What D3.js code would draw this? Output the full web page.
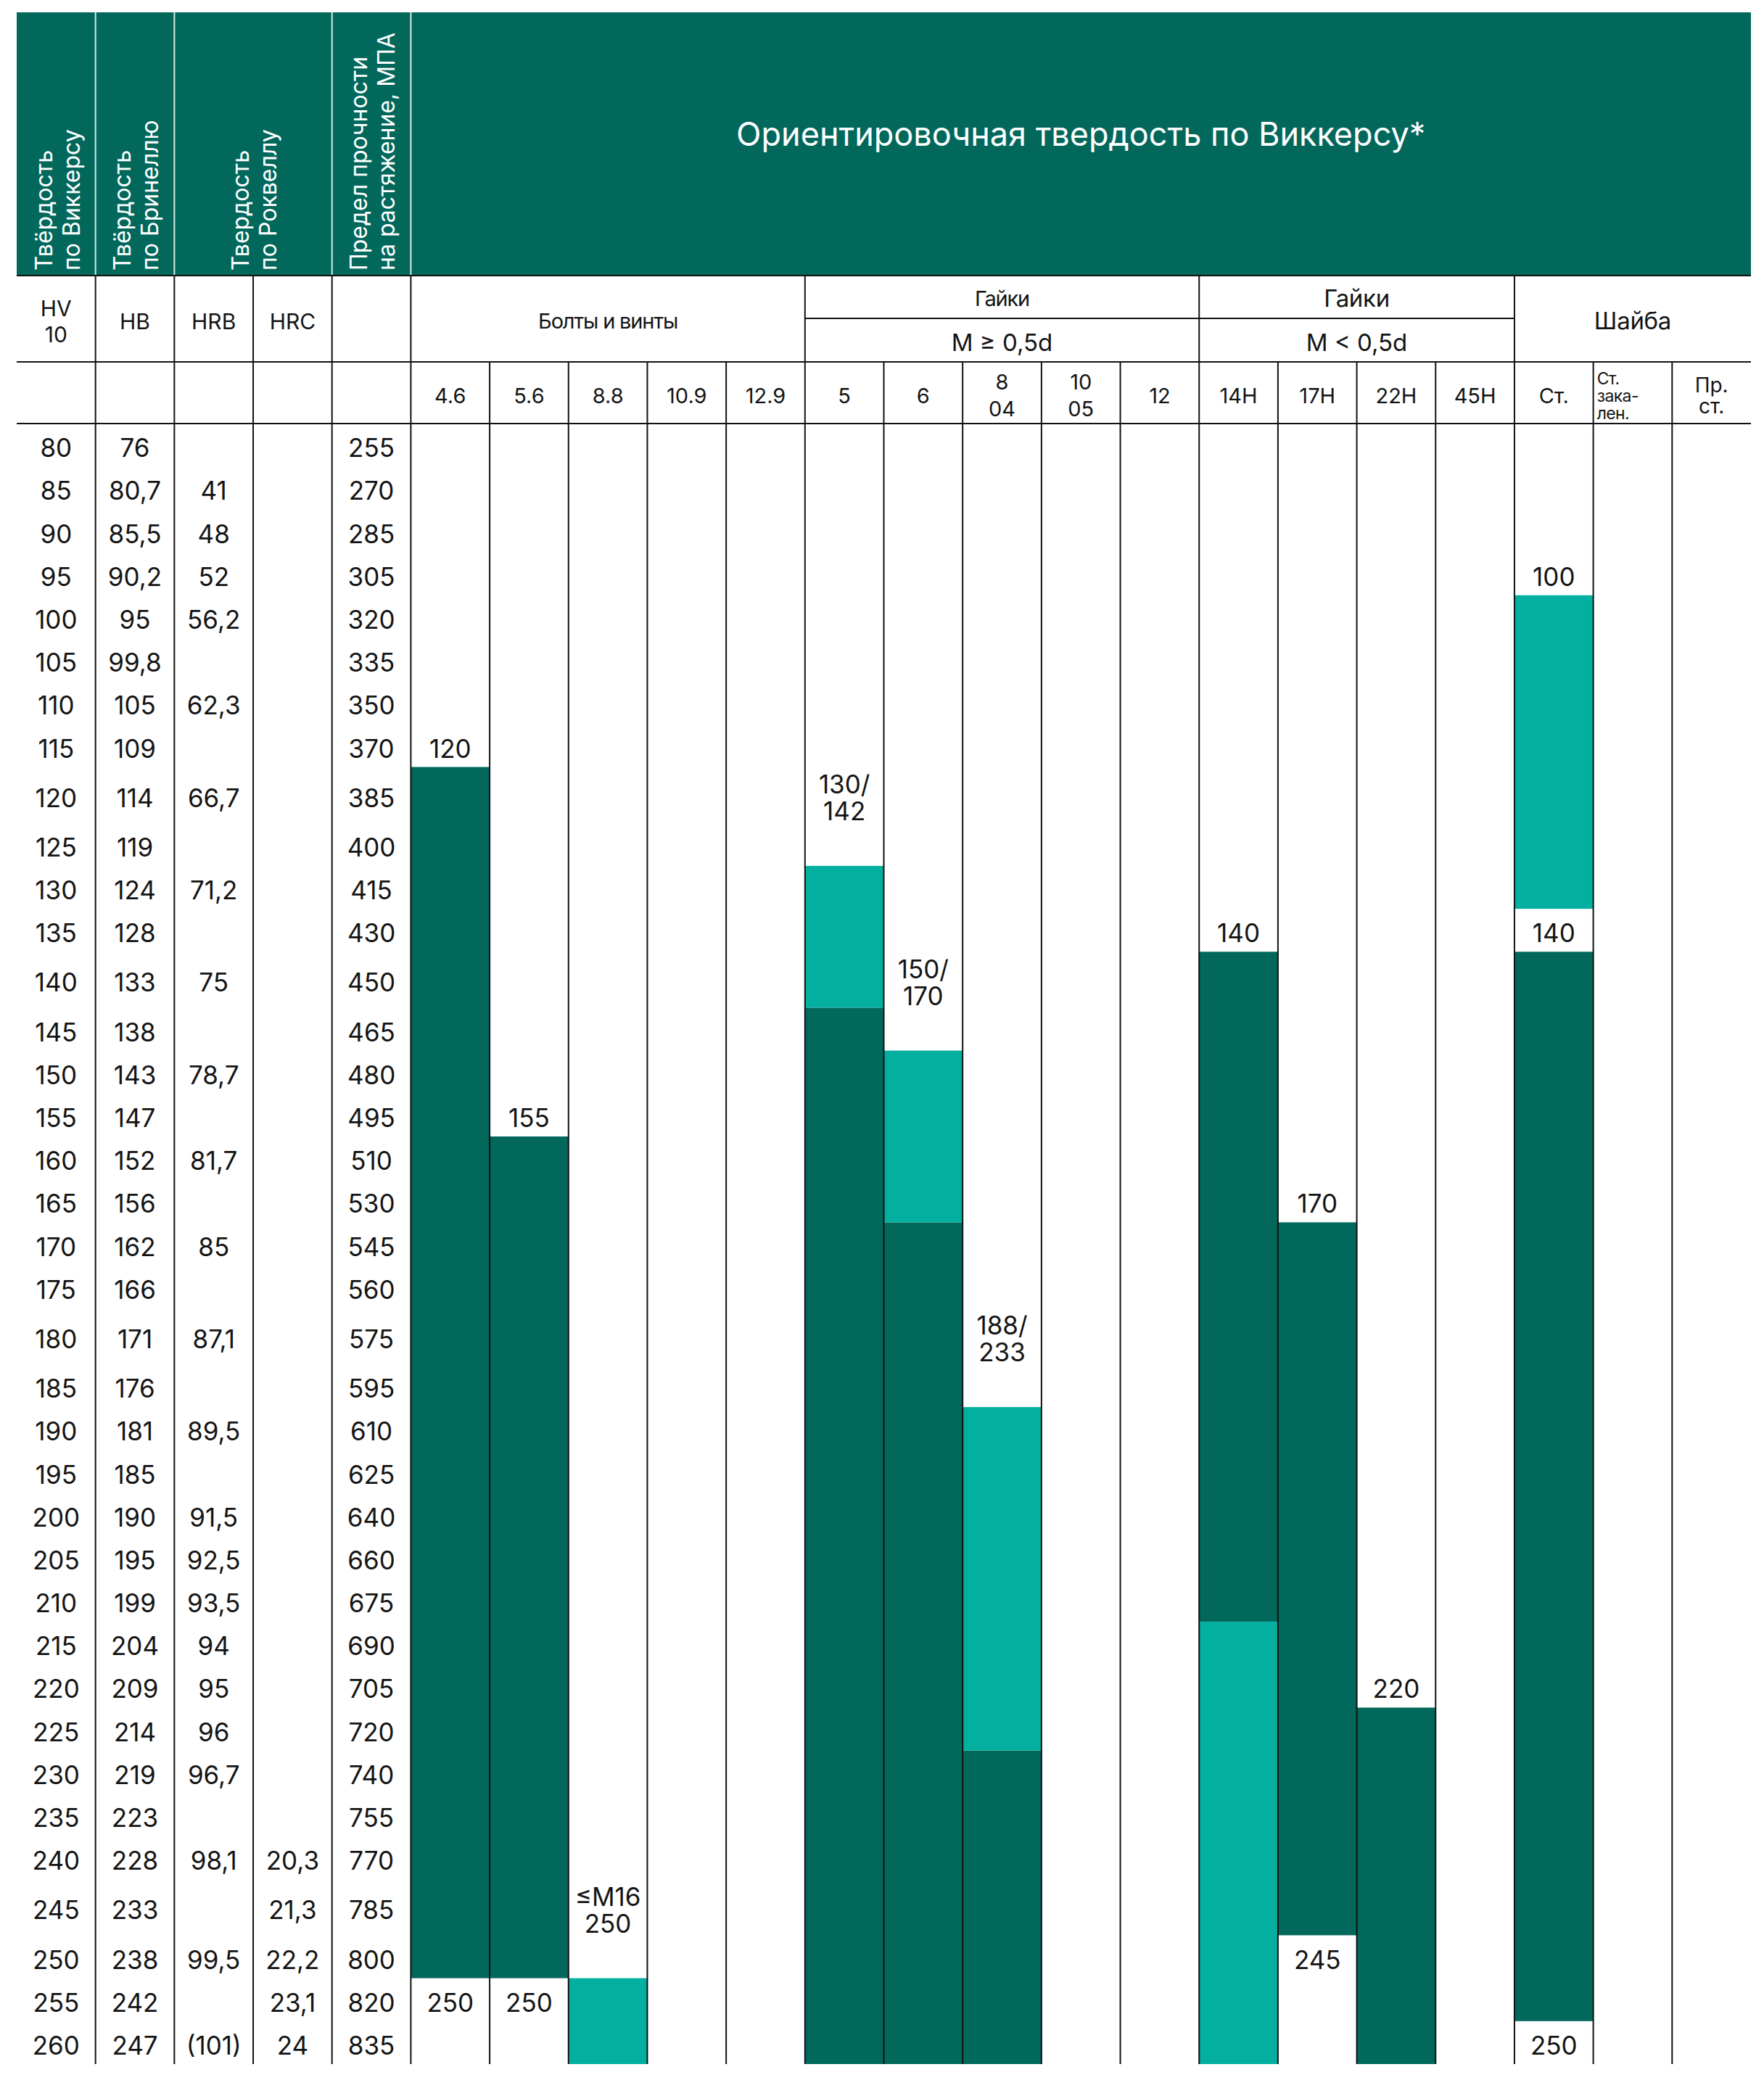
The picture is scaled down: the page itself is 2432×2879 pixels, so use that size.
<!DOCTYPE html>
<html><head><meta charset="utf-8">
<script src="https://cdn.jsdelivr.net/npm/d3@7"></script>
<style>
body{margin:0;background:#fff}
svg{display:block}
text{font-family:Inter,"Noto Sans",sans-serif;fill:#141414}
</style>
</head><body>
<svg id="chart" width="2432" height="2879"></svg>
<script>
// ---------------- DATA ----------------
const hv  = [80,85,90,95,100,105,110,115,120,125,130,135,140,145,150,155,160,165,170,175,180,185,190,195,200,205,210,215,220,225,230,235,240,245,250,255,260];
const hb  = ["76","80,7","85,5","90,2","95","99,8","105","109","114","119","124","128","133","138","143","147","152","156","162","166","171","176","181","185","190","195","199","204","209","214","219","223","228","233","238","242","247"];
const hrb = ["","41","48","52","56,2","","62,3","","66,7","","71,2","","75","","78,7","","81,7","","85","","87,1","","89,5","","91,5","92,5","93,5","94","95","96","96,7","","98,1","","99,5","","(101)"];
const hrc = ["","","","","","","","","","","","","","","","","","","","","","","","","","","","","","","","","20,3","21,3","22,2","23,1","24"];
const mpa = ["255","270","285","305","320","335","350","370","385","400","415","430","450","465","480","495","510","530","545","560","575","595","610","625","640","660","675","690","705","720","740","755","770","785","800","820","835"];

const columns = ["HV","HB","HRB","HRC","MPA","4.6","5.6","8.8","10.9","12.9","5","6","8/04","10/05","12","14H","17H","22H","45H","Ст.","Ст. закален.","Пр. ст."];
const classLabels = {"4.6":["4.6"],"5.6":["5.6"],"8.8":["8.8"],"10.9":["10.9"],"12.9":["12.9"],"5":["5"],"6":["6"],"8/04":["8","04"],"10/05":["10","05"],"12":["12"],"14H":["14H"],"17H":["17H"],"22H":["22H"],"45H":["45H"],"Ст.":["Ст."],"Ст. закален.":["Ст.","зака-","лен."],"Пр. ст.":["Пр.","ст."]};

const title = "Ориентировочная твердость по Виккерсу*";
const rotatedHeaders = [
  {from:"HV", to:"HV", lines:["Твёрдость","по Виккерсу"]},
  {from:"HB", to:"HB", lines:["Твёрдость","по Бринеллю"]},
  {from:"HRB", to:"HRC", lines:["Твердость","по Роквеллу"]},
  {from:"MPA", to:"MPA", lines:["Предел прочности","на растяжение, МПА"]}
];
const unitHeaders = [
  {col:"HV", lines:["HV","10"]},{col:"HB", lines:["HB"]},{col:"HRB", lines:["HRB"]},{col:"HRC", lines:["HRC"]},{col:"MPA", lines:[]}
];
const groupHeaders = [
  {from:"4.6", to:"12.9", label:"Болты и винты", sub:null, small:true},
  {from:"5", to:"12", label:"Гайки", sub:"M ≥ 0,5d", small:true},
  {from:"14H", to:"45H", label:"Гайки", sub:"M < 0,5d", small:false},
  {from:"Ст.", to:"Пр. ст.", label:"Шайба", sub:null, small:false}
];

// ranges of Vickers hardness (inclusive rows)
const darkRanges = [
  {col:"4.6", from:120, to:250},
  {col:"5.6", from:160, to:250},
  {col:"5", from:145, to:260},
  {col:"6", from:170, to:260},
  {col:"8/04", from:230, to:260},
  {col:"14H", from:140, to:210},
  {col:"17H", from:170, to:245},
  {col:"22H", from:225, to:260},
  {col:"Ст.", from:140, to:255}
];
const tealRanges = [
  {col:"8.8", from:255, to:260},
  {col:"5", from:130, to:140},
  {col:"6", from:150, to:165},
  {col:"8/04", from:190, to:225},
  {col:"14H", from:215, to:260},
  {col:"Ст.", from:100, to:130}
];
const rangeLabels = [
  {col:"4.6", at:115, lines:["120"]},
  {col:"4.6", at:255, lines:["250"]},
  {col:"5.6", at:155, lines:["155"]},
  {col:"5.6", at:255, lines:["250"]},
  {col:"8.8", at:245, lines:["≤M16","250"]},
  {col:"5", at:120, lines:["130/","142"]},
  {col:"6", at:140, lines:["150/","170"]},
  {col:"8/04", at:180, lines:["188/","233"]},
  {col:"14H", at:135, lines:["140"]},
  {col:"17H", at:165, lines:["170"]},
  {col:"17H", at:250, lines:["245"]},
  {col:"22H", at:220, lines:["220"]},
  {col:"Ст.", at:95, lines:["100"]},
  {col:"Ст.", at:135, lines:["140"]},
  {col:"Ст.", at:260, lines:["250"]}
];

// ---------------- LAYOUT ----------------
const DARK = "#02685C", TEAL = "#03AF9E";
const left = 23, right = 2414;
const headTop = 17, headBottom = 380, row2Mid = 439, row3Top = 499, dataTop = 584, dataBottom = 2846;
const svg = d3.select("#chart");

const x = d3.scaleBand().domain(columns).range([left, right]).paddingInner(0).paddingOuter(0);
const bw = x.bandwidth();

// rows with two-line labels are taller
const tallRows = new Set(rangeLabels.filter(d => d.lines.length > 1).map(d => d.at));
const weights = hv.map(v => tallRows.has(v) ? 1.303 : 1);
const cum = [0, ...d3.cumsum(weights)];
const yU = d3.scaleLinear().domain([0, cum[cum.length-1]]).range([dataTop, dataBottom]);
const rowTop = v => yU(cum[hv.indexOf(v)]);
const rowBot = v => yU(cum[hv.indexOf(v)+1]);
const rowMid = v => (rowTop(v)+rowBot(v))/2 + 4;

// header
svg.append("rect").attr("x", left).attr("y", headTop).attr("width", right-left).attr("height", headBottom-headTop).attr("fill", DARK);
svg.append("text").attr("x", (x("4.6")+right)/2).attr("y", 185).attr("dy","0.35em")
  .attr("text-anchor","middle").attr("font-size",45).style("fill","#fff").text(title);
// header separators
["HB","HRB","MPA","4.6"].forEach(c => {
  svg.append("line").attr("x1", x(c)).attr("x2", x(c)).attr("y1", headTop).attr("y2", headBottom)
    .attr("stroke","#d8e8e5").attr("stroke-width",2);
});
rotatedHeaders.forEach(h => {
  const cx = (x(h.from) + x(h.to) + bw)/2;
  h.lines.forEach((ln,i) => {
    const xx = cx - 17 + i*38;
    svg.append("text").attr("transform", `translate(${xx},373) rotate(-90)`).attr("dy","0.35em")
      .attr("font-size",32).style("fill","#fff").text(ln);
  });
});

// bars
const bars = svg.append("g");
bars.selectAll("rect.dark").data(darkRanges).join("rect")
  .attr("x", d => x(d.col)).attr("width", bw)
  .attr("y", d => rowTop(d.from)).attr("height", d => rowBot(d.to) - rowTop(d.from))
  .attr("fill", DARK);
bars.selectAll("rect.teal").data(tealRanges).join("rect")
  .attr("x", d => x(d.col)).attr("width", bw)
  .attr("y", d => rowTop(d.from)).attr("height", d => rowBot(d.to) - rowTop(d.from))
  .attr("fill", TEAL);

function multiText(g, cx, cy, lines, size, lh, anchor="middle") {
  const n = lines.length;
  lines.forEach((ln,i) => {
    g.append("text").attr("x", cx).attr("y", cy + (i - (n-1)/2)*lh).attr("dy","0.36em")
      .attr("text-anchor", anchor).attr("font-size", size).text(ln);
  });
}

const txt = svg.append("g");
// data columns
const dataCols = [["HV", hv.map(String)],["HB", hb],["HRB", hrb],["HRC", hrc],["MPA", mpa]];
dataCols.forEach(([c, arr]) => {
  arr.forEach((s,i) => {
    if (!s) return;
    txt.append("text").attr("x", x(c)+bw/2).attr("y", rowMid(hv[i])).attr("dy","0.36em")
      .attr("text-anchor","middle").attr("font-size",35).text(s);
  });
});
rangeLabels.forEach(d => multiText(txt, x(d.col)+bw/2, rowMid(d.at), d.lines, 35, 37));

// unit headers (row 2)
unitHeaders.forEach(u => multiText(txt, x(u.col)+bw/2, (headBottom+row3Top)/2 + 4, u.lines, 30, 36));
groupHeaders.forEach(g => {
  const cx = (x(g.from)+x(g.to)+bw)/2;
  const fs = g.small ? 29 : 33;
  const ls = g.small ? -1.2 : -0.3;
  if (g.sub) {
    txt.append("text").attr("x",cx).attr("y",(headBottom+row2Mid)/2+2).attr("dy","0.36em")
      .attr("text-anchor","middle").attr("font-size",fs).attr("letter-spacing",ls).text(g.label);
    txt.append("text").attr("x",cx).attr("y",(row2Mid+row3Top)/2+3).attr("dy","0.36em")
      .attr("text-anchor","middle").attr("font-size",33).text(g.sub);
  } else {
    txt.append("text").attr("x",cx).attr("y",(headBottom+row3Top)/2+3).attr("dy","0.36em")
      .attr("text-anchor","middle").attr("font-size",fs).attr("letter-spacing",ls).text(g.label);
  }
});
// class headers (row 3)
const r3c = (row3Top+dataTop)/2 + 4;
Object.entries(classLabels).forEach(([c, lines]) => {
  if (lines.length === 3) {
    lines.forEach((ln,i) => txt.append("text").attr("x", x(c)+5).attr("y", r3c + (i-1)*24).attr("dy","0.36em")
      .attr("font-size",23).attr("letter-spacing",-0.6).text(ln));
  } else if (c === "Пр. ст.") {
    multiText(txt, x(c)+bw/2, r3c, lines, 28, 29);
  } else {
    multiText(txt, x(c)+bw/2, r3c, lines, 29, 37);
  }
});

// grid lines
const grid = svg.append("g").attr("stroke","#111").attr("stroke-width",2);
[headBottom, row3Top, dataTop].forEach(y => grid.append("line").attr("x1",left).attr("x2",right).attr("y1",y).attr("y2",y));
grid.append("line").attr("x1",x("5")).attr("x2",x("Ст.")).attr("y1",row2Mid).attr("y2",row2Mid);
const groupCols = ["HB","HRB","HRC","MPA","4.6","5","14H","Ст."];
groupCols.forEach(c => grid.append("line").attr("x1",x(c)).attr("x2",x(c)).attr("y1",headBottom).attr("y2",row3Top));
columns.slice(1).forEach(c => grid.append("line").attr("x1",x(c)).attr("x2",x(c)).attr("y1",row3Top).attr("y2",dataBottom));
</script>
</body></html>
